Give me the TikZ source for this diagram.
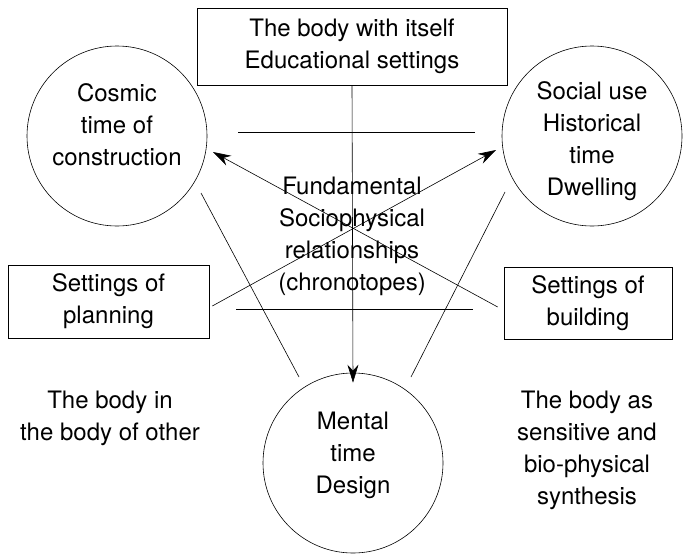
\documentclass[tikz,border=0pt]{standalone}
\usepackage{fontspec}
\setmainfont{TeX Gyre Heros}
\usetikzlibrary{arrows.meta}

\begin{document}
\begin{tikzpicture}[x=1pt, y=-1pt, line width=0.6pt,
    every node/.style={font=\fontsize{24}{32}\selectfont, align=center},
    sphere/.style={draw, circle, minimum size=180pt, inner sep=0pt},
    frame/.style={draw, rectangle, inner sep=0pt},
    link/.style={-{Stealth[length=18pt, width=11pt]}}
    ]
    \useasboundingbox (0,0) rectangle (684,554);

    % circles
    \node [sphere] (cosmic) at (117,136) {};
    \node [sphere] (social) at (592,136) {};
    \node [sphere] (mental) at (353,463) {};
    \node (cosmictext) at (117,125) {Cosmic\\time of\\construction};
    \node (socialtext) at (592,141) {Social use\\Historical\\time\\Dwelling};
    \node (mentaltext) at (353,455) {Mental\\time\\Design};

    % boxes
    \node [frame, minimum width=310pt, minimum height=77pt] (itself) at (352,46.5)
        {The body with itself\\Educational settings};
    \node [frame, minimum width=201pt, minimum height=73pt] (planning) at (108.5,301.5)
        {Settings of\\planning};
    \node [frame, minimum width=168pt, minimum height=72pt] (building) at (588,303)
        {Settings of\\building};

    % free texts
    \node (chrono) at (352,236) {Fundamental\\Sociophysical\\relationships\\(chronotopes)};
    \node (other) at (110,418) {The body in\\the body of other};
    \node (sensitive) at (587,450) {The body as\\sensitive and\\bio-physical\\synthesis};

    % connectors
    \coordinate (upA) at (238,132);
    \coordinate (upB) at (475,132);
    \coordinate (loA) at (236,309);
    \coordinate (loB) at (473,309);
    \draw (upA) -- (upB);
    \draw (loA) -- (loB);

    \draw [link] (itself.south) -- ([yshift=-10pt]mental.north);
    \draw [link] ([shift={(3,4.5)}]planning.east) -- ([shift={(-96,14)}]social.center);
    \draw [link] ([shift={(-6,4)}]building.west) -- ([shift={(96,16)}]cosmic.center);
    \draw ([shift={(84,57)}]cosmic.center) -- ([shift={(-54,-86)}]mental.center);
    \draw ([shift={(-87,56)}]social.center) -- ([shift={(58,-86)}]mental.center);
\end{tikzpicture}
\end{document}
